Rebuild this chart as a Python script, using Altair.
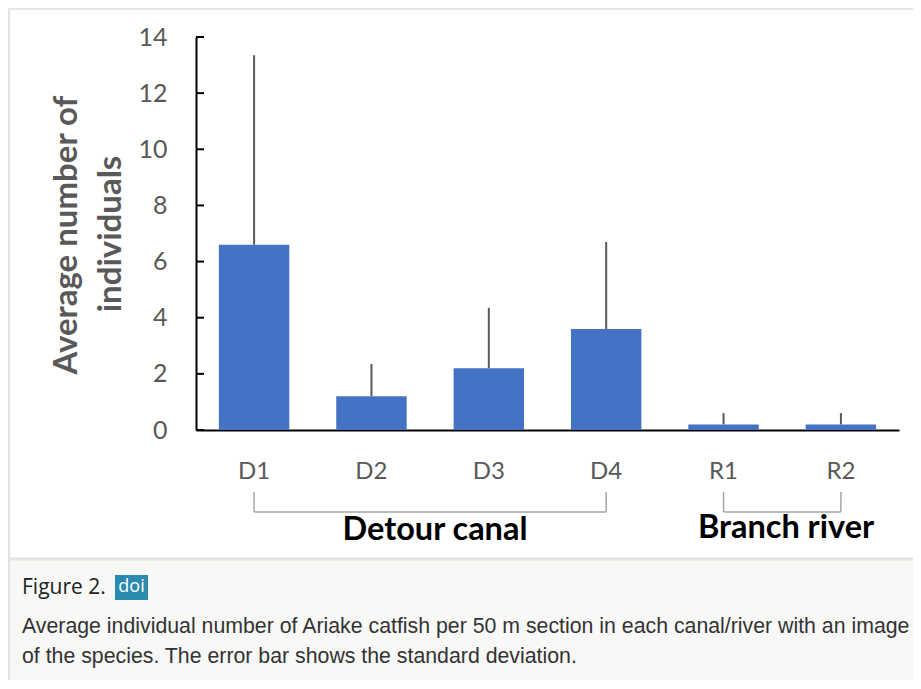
import altair as alt
import pandas as pd

# ---- data ----
sites = ["D1", "D2", "D3", "D4", "R1", "R2"]
means = [6.6, 1.2, 2.2, 3.6, 0.2, 0.2]
sds = [6.75, 1.15, 2.15, 3.1, 0.4, 0.4]
y_ticks = [0, 2, 4, 6, 8, 10, 12, 14]
bracket_sites = ["D1", "D4", "R1", "R2"]
group_names = ["Detour canal", "Branch river"]
group_start = ["D1", "R1"]
group_end = ["D4", "R2"]
y_title = ["Average number of", "individuals"]
fig_label = "Figure 2."
doi_label = "doi"
caption = ("Average individual number of Ariake catfish per 50 m section in each canal/river with an image\n"
           "of the species. The error bar shows the standard deviation.")

df = pd.DataFrame({"site": sites, "mean": means,
                   "upper": [m + s for m, s in zip(means, sds)]})
ticks_df = pd.DataFrame({"v": y_ticks})
br_df = pd.DataFrame({"site": bracket_sites})
grp_df = pd.DataFrame({"name": group_names, "start": group_start, "end": group_end})

def one(text):
    return pd.DataFrame({"t": [text]})

GRAY = "#595959"
FONT = "Lato"

x_scale = alt.Scale(domain=sites, paddingInner=0.4, paddingOuter=0.195)
y_scale = alt.Scale(domain=[0, 14], nice=False, zero=True)

x_axis = alt.Axis(title=None, labelAngle=0, ticks=False, domain=True, domainColor="black",
                  domainWidth=2, labelFont=FONT, labelFontSize=24, labelColor=GRAY,
                  labelPadding=29, grid=False)
y_axis = alt.Axis(title=None, ticks=False, tickSize=0, domain=True, domainColor="black",
                  domainWidth=2, labelFont=FONT, labelFontSize=25, labelColor=GRAY,
                  labelPadding=29, grid=False, values=y_ticks)

# background / frame decorations
cap_bg = alt.Chart(one("")).mark_rect(color="#f8f8f7").encode(
    x=alt.value(-188), x2=alt.value(725), y=alt.value(523), y2=alt.value(660))
cap_border = alt.Chart(one("")).mark_rule(color="#e3e3df", strokeWidth=3).encode(
    x=alt.value(-188), x2=alt.value(725), y=alt.value(522))
left_border = alt.Chart(one("")).mark_rule(color="#e2e2e2", strokeWidth=2).encode(
    x=alt.value(-187), y=alt.value(-29), y2=alt.value(660))
top_border = alt.Chart(one("")).mark_rule(color="#e6e6e6", strokeWidth=2).encode(
    x=alt.value(-188), x2=alt.value(725), y=alt.value(-28))

bars = alt.Chart(df).mark_bar(color="#4472C4").encode(
    x=alt.X("site:N", scale=x_scale, axis=x_axis, sort=sites),
    y=alt.Y("mean:Q", scale=y_scale, axis=y_axis),
)
err = alt.Chart(df).mark_rule(color=GRAY, strokeWidth=2).encode(
    x=alt.X("site:N", sort=sites), y="mean:Q", y2="upper:Q")

ticks = alt.Chart(ticks_df).mark_rule(color="black", strokeWidth=2).encode(
    y=alt.Y("v:Q"), x=alt.value(0), x2=alt.value(8))

br_v = alt.Chart(br_df).mark_rule(color="#a6a6a6", strokeWidth=1.5).encode(
    x=alt.X("site:N", sort=sites), y=alt.value(455), y2=alt.value(475))
br_h = alt.Chart(grp_df).mark_rule(color="#a6a6a6", strokeWidth=1.5).encode(
    x=alt.X("start:N", sort=sites), x2="end:N", y=alt.value(475))

g1 = alt.Chart(one(group_names[0])).mark_text(font=FONT, fontSize=32.5, fontWeight="bold",
                                               color="black", baseline="middle").encode(
    text="t:N", x=alt.value(239), y=alt.value(493))
g2 = alt.Chart(one(group_names[1])).mark_text(font=FONT, fontSize=32.5, fontWeight="bold",
                                               color="black", baseline="middle").encode(
    text="t:N", x=alt.value(590), y=alt.value(491))

yt1 = alt.Chart(one(y_title[0])).mark_text(font=FONT, fontSize=33, fontWeight="bold",
                                           color=GRAY, angle=270, baseline="middle").encode(
    text="t:N", x=alt.value(-129), y=alt.value(198))
yt2 = alt.Chart(one(y_title[1])).mark_text(font=FONT, fontSize=33, fontWeight="bold",
                                           color=GRAY, angle=270, baseline="middle").encode(
    text="t:N", x=alt.value(-85), y=alt.value(197))

fig_t = alt.Chart(one(fig_label)).mark_text(font="Open Sans", fontSize=21, color="#222222",
                                            align="left", baseline="middle").encode(
    text="t:N", x=alt.value(-174), y=alt.value(551))
doi_bg = alt.Chart(one("")).mark_rect(color="#2a8ab0").encode(
    x=alt.value(-81), x2=alt.value(-48), y=alt.value(538), y2=alt.value(563))
doi_t = alt.Chart(one(doi_label)).mark_text(font="Open Sans", fontSize=18, color="white",
                                            align="center", baseline="middle").encode(
    text="t:N", x=alt.value(-64.5), y=alt.value(550))
cap_t = alt.Chart(one(caption)).mark_text(font="Liberation Sans", fontSize=21.3, color="#333333",
                                          align="left", baseline="middle", lineBreak="\n",
                                          lineHeight=30).encode(
    text="t:N", x=alt.value(-174), y=alt.value(590))

chart = alt.layer(
    cap_bg, cap_border, left_border, top_border,
    bars, err, ticks, br_v, br_h, g1, g2, yt1, yt2,
    fig_t, doi_bg, doi_t, cap_t,
).properties(
    width=703, height=393,
    autosize=alt.AutoSizeParams(type="none"),
    padding={"left": 188, "top": 29, "right": 14, "bottom": 250},
    background="white",
).configure_view(stroke=None)

chart.save("out.html", embed_options={"renderer": "svg", "actions": False})
